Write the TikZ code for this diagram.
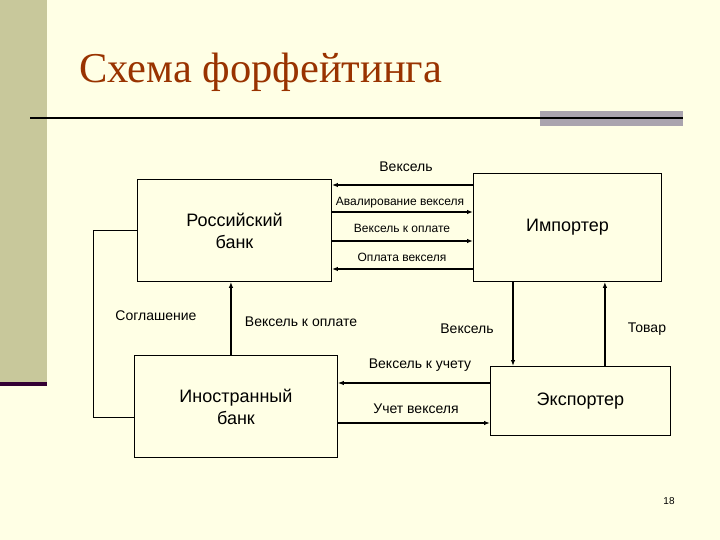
\documentclass[tikz,border=0pt]{standalone}
\usepackage{fontspec}
\setmainfont{Liberation Sans}
\newfontfamily\titlefont{Liberation Serif}
\usetikzlibrary{arrows.meta}
\definecolor{slidebg}{RGB}{255,255,229}
\definecolor{sidebar}{RGB}{200,200,155}
\definecolor{darkplum}{RGB}{51,0,51}
\definecolor{titlebrown}{RGB}{153,51,0}
\definecolor{bargray}{RGB}{170,164,174}

\tikzset{
  box/.style={draw,line width=.9pt,anchor=north west,inner sep=0pt,align=center,
    font=\fontsize{18}{22}\selectfont},
  arr/.style={-{Latex[length=6pt,width=4.5pt]},line width=1.1pt},
  arrthick/.style={arr,line width=1.8pt},
  lbl/.style={inner sep=0pt,font=\fontsize{12}{14}\selectfont},
  lblbig/.style={inner sep=0pt,font=\fontsize{14}{16}\selectfont}
}

\begin{document}
\begin{tikzpicture}[x=1pt,y=-1pt]
    % slide background
    \fill[slidebg] (0,0) rectangle (720,540);
    \useasboundingbox (0,0) rectangle (720,540);
    \fill[sidebar] (0,0) rectangle (47,382);
    \fill[darkplum] (0,382) rectangle (47,386);
    \fill[bargray] (540,111) rectangle (683,126);
    \draw[line width=2pt] (30,118) -- (683,118);
    \node[anchor=base west,inner sep=0pt,text=titlebrown,
      font=\titlefont\fontsize{42.5}{46}\selectfont] (title) at (79,83) {Схема форфейтинга};

    % boxes
    \node[box,minimum width=194pt,minimum height=102pt] (rb) at (137,179) {Российский\\банк};
    \node[box,minimum width=188pt,minimum height=108pt] (imp) at (473,173) {Импортер};
    \node[box,minimum width=203pt,minimum height=102pt] (ib) at (134,355) {Иностранный\\банк};
    \node[box,minimum width=180pt,minimum height=69pt] (exp) at (490,366) {Экспортер};

    % Российский банк <-> Импортер
    \coordinate (a1) at ([yshift=-6pt]rb.north east);
    \coordinate (a2) at ([yshift=-33pt]rb.north east);
    \coordinate (a3) at ([yshift=-62pt]rb.north east);
    \coordinate (a4) at ([yshift=-90pt]rb.north east);
    \draw[arrthick] (imp.west |- a1) -- (a1);
    \draw[arr] (a2) -- (imp.west |- a2);
    \draw[arr] (a3) -- (imp.west |- a3);
    \draw[arrthick] (imp.west |- a4) -- (a4);
    \node[lblbig] (l1) at (406,167) {Вексель};
    \node[lbl] (l2) at (400,203) {Авалирование векселя};
    \node[lbl] (l3) at (402,228) {Вексель к оплате};
    \node[lbl] (l4) at (402,257) {Оплата векселя};

    % Иностранный банк -> Российский банк
    \coordinate (b1) at ([xshift=-5pt]ib.north);
    \draw[arr] (b1) -- (b1 |- rb.south);
    \node[lblbig] (l5) at (301,322) {Вексель к оплате};

    % Соглашение
    \draw[line width=1pt] (rb.west) -- ++(-44,0) |- ([yshift=-11pt]ib.west);
    \node[lblbig] (l6) at (156,316) {Соглашение};

    % Импортер <-> Экспортер
    \coordinate (c1) at ([xshift=40pt]imp.south west);
    \coordinate (c2) at ([xshift=-57pt]imp.south east);
    \draw[arrthick] (c1) -- (c1 |- exp.north);
    \draw[arrthick] (c2 |- exp.north) -- (c2);
    \node[lblbig] (l7) at (467,329) {Вексель};
    \node[lblbig] (l8) at (647,329) {Товар};

    % Экспортер <-> Иностранный банк
    \coordinate (d1) at ([yshift=-28pt]ib.north east);
    \coordinate (d2) at ([yshift=-68pt]ib.north east);
    \draw[arr] (exp.west |- d1) -- (d1);
    \draw[arrthick] (d2) -- (exp.west |- d2);
    \node[lblbig] (l9) at (420,365) {Вексель к учету};
    \node[lblbig] (l10) at (416,409) {Учет векселя};

    % page number
    \node[inner sep=0pt,font=\fontsize{10}{11}\selectfont] (pg) at (669,501) {18};
\end{tikzpicture}
\end{document}
